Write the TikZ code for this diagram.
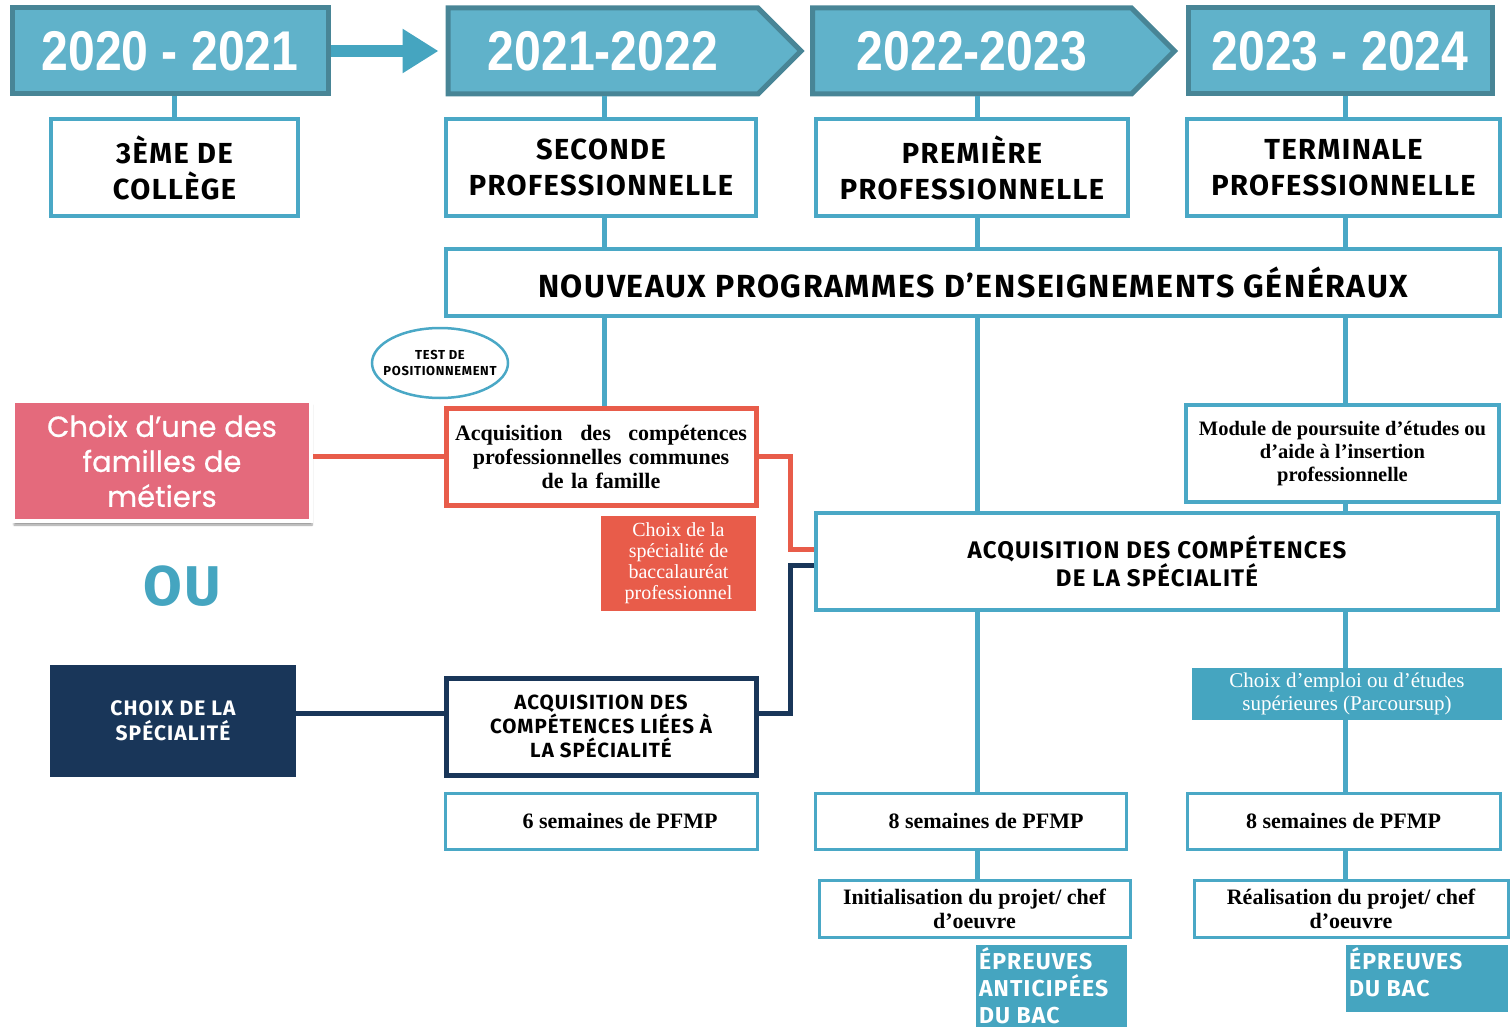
\documentclass[tikz,border=0pt]{standalone}
\usepackage{fontspec}
\setmainfont{Liberation Serif}
\newfontfamily\yearfont[FakeStretch=0.86]{Liberation Sans}
\newfontfamily\capsfont[LetterSpace=5]{Fira Sans}
\newfontfamily\roundfont[FakeBold=0.6]{Poppins}
\usetikzlibrary{arrows.meta,shapes.symbols,shapes.geometric,shadows.blur}

\definecolor{headfill}{RGB}{96,178,202}
\definecolor{headline}{RGB}{72,133,150}
\definecolor{tealline}{RGB}{74,168,198}
\definecolor{tealbox}{RGB}{69,165,192}
\definecolor{redline}{RGB}{232,92,74}
\definecolor{pinkfill}{RGB}{228,106,124}
\definecolor{navy}{RGB}{25,54,89}

\tikzset{
  year/.style={fill=headfill,draw=headline,line width=5pt,minimum height=86pt,inner sep=0pt,
    text=white,font=\yearfont\bfseries\fontsize{56}{60}\selectfont},
  yeararrow/.style={year,shape=signal,signal to=east,signal pointer angle=90},
  grade/.style={draw=tealline,line width=4pt,fill=white,minimum height=97pt,inner sep=0pt,
    align=center,font=\capsfont\bfseries\fontsize{29}{36}\selectfont},
  tbox/.style={draw=tealline,line width=4pt,fill=white,inner sep=0pt,align=center},
  serif/.style={font=\bfseries\fontsize{22}{24}\selectfont},
  caps/.style={font=\capsfont\bfseries\fontsize{21}{25}\selectfont},
  epreuve/.style={fill=tealbox,inner sep=3pt,text=white,font=\capsfont\bfseries\fontsize{23}{27}\selectfont},
  tline/.style={draw=tealline,line width=5pt},
  rline/.style={draw=redline,line width=5pt},
  nline/.style={draw=navy,line width=5pt}
}

\begin{document}
\begin{tikzpicture}[x=1pt,y=-1pt]
\useasboundingbox (0,0) rectangle (1510,1027);
\coordinate (c1) at (604,0);
\coordinate (c2) at (977,0);
\coordinate (c3) at (1345,0);

% years
\node[year,minimum width=316pt] (y1) at (170,51) {2020 - 2021};
\node[yeararrow,minimum width=353pt] (y2) at (603,51) {2021-2022};
\node[yeararrow,minimum width=362pt] (y3) at (972,51) {2022-2023};
\node[year,minimum width=304pt] (y4) at (1340,51) {2023 - 2024};
\draw[-{Triangle[length=36pt,width=42pt]},line width=12pt,tealbox,shorten >=7pt] (y1.east) -- (y2.west);

\node[grade,minimum width=247pt] (g0) at (174.5,167.5) {3ÈME DE\\COLLÈGE};
\node[grade,minimum width=310pt] (g1) at (601,167.5) {SECONDE\\PROFESSIONNELLE};
\node[grade,minimum width=312pt] (g2) at (972,167.5) {PREMIÈRE\\PROFESSIONNELLE};
\node[grade,minimum width=313pt] (g3) at (1343.5,167.5) {TERMINALE\\PROFESSIONNELLE};
\node[grade,minimum width=1054pt,minimum height=67pt,font=\capsfont\bfseries\fontsize{32}{36}\selectfont] (nouv) at (973,282.5) {NOUVEAUX PROGRAMMES D’ENSEIGNEMENTS GÉNÉRAUX};

\node[draw=tealline,line width=2.5pt,ellipse,minimum width=136pt,minimum height=70pt,inner xsep=-9pt,inner ysep=0pt,
  align=center,font=\capsfont\bfseries\fontsize{13}{16}\selectfont] (test) at (440,363) {TEST DE\\POSITIONNEMENT};

% left column
\node[fill=pinkfill,draw=white,line width=4pt,blur shadow={shadow xshift=1pt,shadow yshift=-4pt,shadow blur steps=6,shadow opacity=40},
  minimum width=298pt,minimum height=120pt,inner sep=0pt,text=white,align=center,
  font=\roundfont\fontsize{29}{35}\selectfont] (famchoix) at (162,461) {Choix d’une des\\familles de\\métiers};
\node[text=tealbox,font=\capsfont\bfseries\fontsize{56}{60}\selectfont] (ou) at (182,586) {OU};
\node[fill=navy,minimum width=246pt,minimum height=112pt,inner sep=0pt,text=white,align=center,caps] (specchoix) at (173,721) {CHOIX DE LA\\SPÉCIALITÉ};

% second year
\node[draw=redline,line width=5pt,fill=white,minimum width=310pt,minimum height=97pt,inner sep=0pt,
  text width=292pt,align=center,serif] (fam) at (601,456.5) {Acquisition\hfill des\hfill compétences\\professionnelles communes\\de la famille};
\node[fill=redline,minimum width=155pt,minimum height=95pt,inner sep=0pt,text=white,align=center,
  font=\fontsize{20}{21}\selectfont] (bacpro) at (678.5,563.5) {Choix de la\\spécialité de\\baccalauréat\\professionnel};
\node[draw=navy,line width=5pt,fill=white,minimum width=310pt,minimum height=97pt,inner sep=0pt,align=center,
  font=\capsfont\bfseries\fontsize{20.5}{24}\selectfont] (liees) at (601,726.5) {ACQUISITION DES\\COMPÉTENCES LIÉES À\\LA SPÉCIALITÉ};
\node[tbox,line width=3pt,minimum width=312pt,minimum height=56pt,serif] (pfmp6) at (601,821) {\hspace*{38pt}6 semaines de PFMP};

% third and fourth year
\node[tbox,minimum width=682pt,minimum height=97pt,font=\capsfont\bfseries\fontsize{24}{28}\selectfont] (spec) at (1157,561.5) {ACQUISITION DES COMPÉTENCES\\DE LA SPÉCIALITÉ};
\node[tbox,minimum width=313pt,minimum height=97pt,font=\bfseries\fontsize{20.5}{23}\selectfont] (module) at (1342.5,453.5) {Module de poursuite d’études ou\\d’aide à l’insertion\\professionnelle};
\node[fill=tealbox,minimum width=310pt,minimum height=52pt,inner sep=0pt,text=white,align=center,
  font=\fontsize{21}{23}\selectfont] (emploi) at (1347,694) {Choix d’emploi ou d’études\\supérieures (Parcoursup)};
\node[tbox,line width=3pt,minimum width=311pt,minimum height=56pt,serif] (pfmp8a) at (970.5,821) {\hspace*{31pt}8 semaines de PFMP};
\node[tbox,line width=3pt,minimum width=313pt,minimum height=56pt,serif] (pfmp8b) at (1343.5,821) {8 semaines de PFMP};
\node[tbox,line width=3pt,minimum width=311pt,minimum height=57pt,serif] (init) at (974.5,908.5) {Initialisation du projet/ chef\\d’oeuvre};
\node[tbox,line width=3pt,minimum width=314pt,minimum height=57pt,serif] (real) at (1351,908.5) {Réalisation du projet/ chef\\d’oeuvre};
\node[epreuve] (epA) at (1051.5,993) {\begin{minipage}[c][90pt][t]{145pt}ÉPREUVES\\ANTICIPÉES\\DU BAC\end{minipage}};
\node[epreuve] (epB) at (1427,978.5) {\begin{minipage}[c][61pt][t]{156pt}ÉPREUVES\\DU BAC\end{minipage}};

% connectors
\draw[tline] (g0.north) -- (g0.north |- y1.south);
\draw[tline] (c1 |- y2.south) -- (c1 |- g1.north);
\draw[tline] (c2 |- y3.south) -- (c2 |- g2.north);
\draw[tline] (c3 |- y4.south) -- (c3 |- g3.north);
\draw[tline] (c1 |- g1.south) -- (c1 |- nouv.north);
\draw[tline] (c2 |- g2.south) -- (c2 |- nouv.north);
\draw[tline] (c3 |- g3.south) -- (c3 |- nouv.north);
\draw[tline] (c1 |- nouv.south) -- (c1 |- fam.north);
\draw[tline] (c2 |- nouv.south) -- (c2 |- spec.north);
\draw[tline] (c3 |- nouv.south) -- (c3 |- module.north);
\draw[tline] (c3 |- module.south) -- (c3 |- spec.north);
\draw[tline] (c2 |- spec.south) -- (c2 |- pfmp8a.north);
\draw[tline] (c3 |- spec.south) -- (c3 |- emploi.north);
\draw[tline] (c3 |- emploi.south) -- (c3 |- pfmp8b.north);
\draw[tline] (c2 |- pfmp8a.south) -- (c2 |- init.north);
\draw[tline] (c3 |- pfmp8b.south) -- (c3 |- real.north);
\draw[rline] (fam.west -| famchoix.east) -- (fam.west);
\draw[rline] (fam.east) -- ++(32,0) |- ([yshift=12pt]spec.west);
\draw[nline] ([yshift=8pt]specchoix.east) -- ([yshift=8pt]specchoix.east -| liees.west);
\draw[nline] ([yshift=13.5pt]liees.east) -- ++(32,0) |- ([yshift=-4pt]spec.west);
\end{tikzpicture}
\end{document}
